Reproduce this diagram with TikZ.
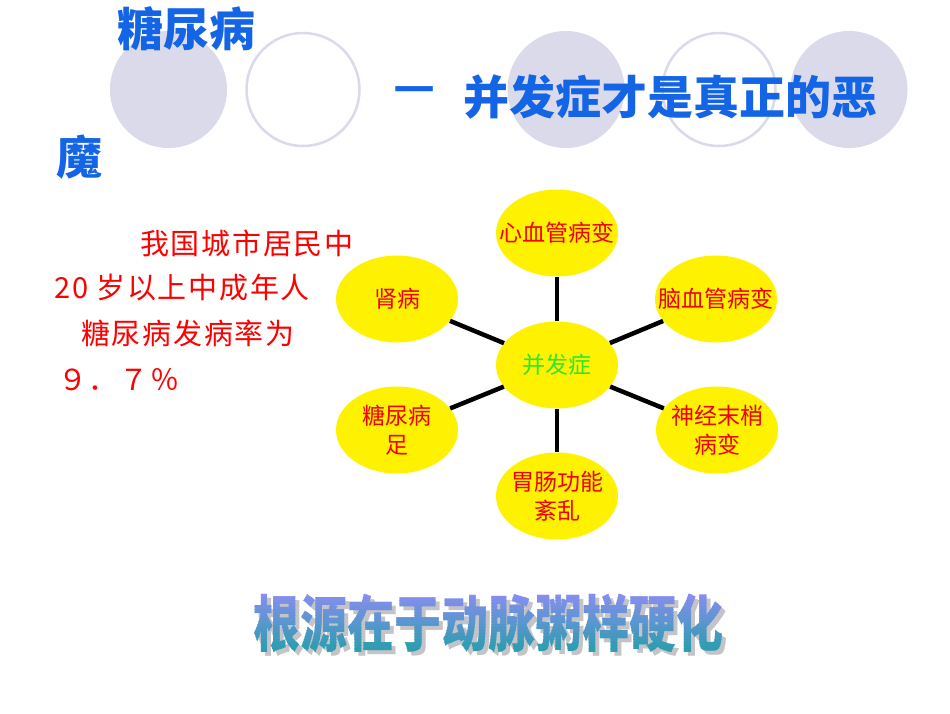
\documentclass[tikz,border=0pt]{standalone}
\usepackage{fontspec}
\usepackage{graphicx}
\newfontfamily\cjk{Noto Sans CJK SC}
\newfontfamily\cjkwide[LetterSpace=6]{Noto Sans CJK SC}
\usetikzlibrary{shapes.geometric}
\definecolor{titleblue}{RGB}{20,100,230}
\definecolor{deco}{RGB}{218,218,235}
\definecolor{bubblered}{RGB}{240,0,10}
\definecolor{bubblegreen}{RGB}{45,230,45}
\definecolor{gradtop}{RGB}{145,140,245}
\definecolor{gradbot}{RGB}{30,160,165}
\definecolor{shadowgray}{RGB}{195,195,200}
\tikzset{
  decofill/.style={circle,fill=deco,draw=deco,line width=2pt,minimum size=115pt,inner sep=0pt},
  decoring/.style={circle,draw=deco,line width=2.5pt,minimum size=113pt,inner sep=0pt},
  titletext/.style={font=\cjk\bfseries\fontsize{46}{50}\selectfont,text=titleblue,inner sep=0pt},
  redtext/.style={font=\cjkwide\fontsize{29}{32}\selectfont,text=red,inner sep=0pt,anchor=west},
  bubble/.style={ellipse,fill=yellow,draw=none,minimum width=122pt,minimum height=87pt,inner sep=0pt},
  bubbletext/.style={font=\cjk\fontsize{23}{29}\selectfont,text=bubblered,align=center,inner sep=0pt},
  conn/.style={line width=4.5pt,black},
  bigtext/.style={font=\cjk\bfseries\fontsize{47}{50}\selectfont,inner sep=0pt}
}
\begin{document}
\begin{tikzpicture}[x=1pt,y=-1pt]
\useasboundingbox (0,0) rectangle (950,713);
\fill[white] (0,0) rectangle (950,713);
% decorative circles
\node[decofill] (c1) at (168.5,89.5) {};
\node[decoring] (c2) at (303,89.5) {};
\node[decofill] (c3) at (566,89.5) {};
\node[decoring] (c4) at (719,89.5) {};
\node[decofill] (c5) at (849,89.5) {};
% title
\node[titletext] (t1) at (186,29) {糖尿病};
\node[titletext] (t2) at (415,95) {—};
\node[titletext,anchor=west] (t3) at (463,97) {并发症才是真正的恶};
\node[titletext] (t4) at (79,157) {魔};
% red text
\node[redtext] (r1) at (140,243) {我国城市居民中};
\node[redtext] (r2) at (54,288) {20 岁以上中成年人};
\node[redtext] (r3) at (81,333) {糖尿病发病率为};
\node[redtext] (r4) at (58,380) {９．７％};
% bubbles
\node[bubble] (center) at (557,365) {};
\node[bubble] (heart) at (557,233) {};
\node[bubble] (brain) at (716,299) {};
\node[bubble] (kidney) at (397,299) {};
\node[bubble] (foot) at (397,430) {};
\node[bubble] (nerve) at (717,430) {};
\node[bubble] (gut) at (557,496) {};
\draw[conn] (center) -- (heart);
\draw[conn] (center) -- (brain);
\draw[conn] (center) -- (kidney);
\draw[conn] (center) -- (foot);
\draw[conn] (center) -- (nerve);
\draw[conn] (center) -- (gut);
\node[bubbletext,text=bubblegreen] (lc) at (center) {并发症};
\node[bubbletext] (lh) at (heart) {心血管病变};
\node[bubbletext] (lb) at (brain) {脑血管病变};
\node[bubbletext] (lk) at (kidney) {肾病};
\node[bubbletext] (lf) at (foot) {糖尿病\\足};
\node[bubbletext] (ln) at (nerve) {神经末梢\\病变};
\node[bubbletext] (lg) at (gut) {胃肠功能\\紊乱};
% bottom wordart
\node[bigtext,text=shadowgray] (bshadow) at (492,627) {\scalebox{1}[1.3]{根源在于动脉粥样硬化}};
\foreach \i in {0,...,23}{
  \pgfmathsetmacro{\ya}{588+3*\i}
  \pgfmathsetmacro{\yb}{588+3*(\i+1)+0.4}
  \pgfmathtruncatemacro{\p}{100-100*\i/23}
  \colorlet{bandc}{gradtop!\p!gradbot}
  \begin{scope}
    \clip (0,\ya) rectangle (950,\yb);
    \node[bigtext,text=bandc] (band\i) at (488,623) {\scalebox{1}[1.3]{根源在于动脉粥样硬化}};
  \end{scope}
}
\end{tikzpicture}
\end{document}
